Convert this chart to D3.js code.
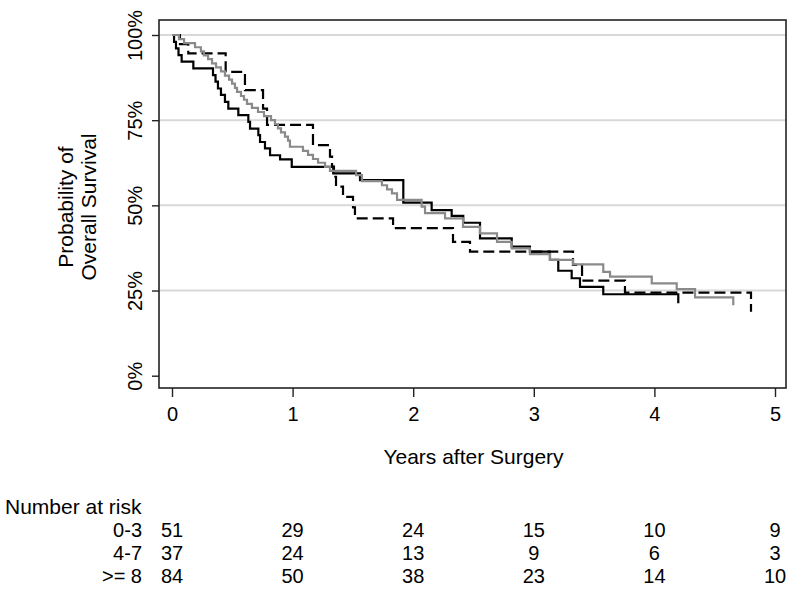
<!DOCTYPE html>
<html><head><meta charset="utf-8">
<script src="https://cdn.jsdelivr.net/npm/d3@7"></script>
<style>
body{margin:0;background:#fff}
svg text{font-family:"Liberation Sans",Arial,Helvetica,sans-serif;fill:#000}
</style>
</head><body>
<svg id="chart" width="800" height="596"></svg>
<script>
// ---- data ----
const groups = ["0-3", "4-7", ">= 8"];

// Group 0-3 (solid black)
const time03 = [0,0.017,0.033,0.054,0.080,0.177,0.340,0.361,0.381,0.406,0.439,0.467,0.550,0.633,0.647,0.716,0.730,0.771,0.813,0.896,0.993,1.337,1.559,1.918,2.153,2.319,2.415,2.554,2.817,2.968,3.134,3.203,3.314,3.383,3.576,4.198];
const surv03 = [1,0.980,0.961,0.941,0.922,0.902,0.882,0.863,0.843,0.824,0.804,0.784,0.765,0.745,0.725,0.706,0.686,0.667,0.647,0.635,0.613,0.594,0.574,0.508,0.486,0.469,0.449,0.403,0.379,0.364,0.340,0.308,0.286,0.261,0.239,0.213];

// Group 4-7 (dashed black)
const time47 = [0,0.066,0.135,0.445,0.605,0.755,0.788,1.169,1.310,1.327,1.343,1.360,1.418,1.501,1.517,1.833,2.330,2.471,3.325,3.400,3.756,4.801];
const surv47 = [1,0.973,0.946,0.892,0.838,0.784,0.736,0.677,0.643,0.614,0.584,0.555,0.525,0.494,0.462,0.433,0.393,0.364,0.325,0.279,0.244,0.188];

// Group >= 8 (solid gray)
const time8 = [0,0.058,0.100,0.191,0.240,0.265,0.299,0.332,0.365,0.406,0.439,0.473,0.498,0.522,0.539,0.572,0.597,0.622,0.663,0.713,0.763,0.821,0.854,0.879,0.904,0.937,0.962,0.978,1.086,1.128,1.169,1.211,1.269,1.310,1.526,1.575,1.741,1.783,1.824,1.866,2.070,2.098,2.264,2.413,2.554,2.695,2.817,2.968,3.134,3.325,3.576,3.632,3.978,4.185,4.337,4.654];
const surv8 = [1,0.988,0.976,0.964,0.952,0.940,0.929,0.917,0.905,0.893,0.881,0.869,0.857,0.845,0.833,0.821,0.810,0.798,0.786,0.774,0.762,0.750,0.738,0.726,0.714,0.702,0.690,0.672,0.660,0.648,0.636,0.625,0.613,0.601,0.589,0.571,0.559,0.547,0.535,0.516,0.496,0.477,0.462,0.437,0.418,0.393,0.374,0.357,0.340,0.327,0.305,0.291,0.271,0.254,0.230,0.207];

const xTicks = [0, 1, 2, 3, 4, 5];
const yTicks = [0, 0.25, 0.5, 0.75, 1];
const gridTicks = [0.25, 0.5, 0.75, 1];

const riskTimes = [0, 1, 2, 3, 4, 5];
const risk03 = [51, 29, 24, 15, 10, 9];
const risk47 = [37, 24, 13, 9, 6, 3];
const risk8 = [84, 50, 38, 23, 14, 10];

const xTitle = "Years after Surgery";
const yTitle = ["Probability of", "Overall Survival"];
const riskTitle = "Number at risk";

// ---- layout ----
const svg = d3.select("#chart");
const frame = {left: 159, top: 20, right: 786, bottom: 388};
const x = d3.scaleLinear().domain([0, 5]).range([172, 775]);
const y = d3.scaleLinear().domain([0, 1]).range([375.7, 35]);
const FS = 20, FT = 21;

svg.append("rect").attr("width", 800).attr("height", 596).attr("fill", "#fff");

// gridlines
svg.append("g").selectAll("line").data(gridTicks).join("line")
  .attr("x1", frame.left).attr("x2", frame.right)
  .attr("y1", d => y(d)).attr("y2", d => y(d))
  .attr("stroke", "#d9d9d9").attr("stroke-width", 2);

// curves
const line = d3.line().x(d => x(d[0])).y(d => y(d[1])).curve(d3.curveStepAfter);
const series = [
  {t: time03, s: surv03, color: "#000", dash: null},
  {t: time47, s: surv47, color: "#000", dash: "11,5"},
  {t: time8,  s: surv8,  color: "#8a8a8a", dash: null}
];
series.forEach(sr => {
  svg.append("path")
    .attr("d", line(sr.t.map((t, i) => [t, sr.s[i]])))
    .attr("fill", "none")
    .attr("stroke", sr.color)
    .attr("stroke-width", 2.2)
    .attr("stroke-dasharray", sr.dash);
});

// frame
svg.append("rect")
  .attr("x", frame.left).attr("y", frame.top)
  .attr("width", frame.right - frame.left).attr("height", frame.bottom - frame.top)
  .attr("fill", "none").attr("stroke", "#222").attr("stroke-width", 1.6);

// y axis
const yAxis = svg.append("g").attr("transform", `translate(${frame.left},0)`)
  .call(d3.axisLeft(y).tickValues(yTicks).tickSize(7).tickFormat(d3.format(".0%")));
yAxis.select(".domain").remove();
yAxis.selectAll(".tick line").attr("stroke", "#222").attr("stroke-width", 1.4);
yAxis.selectAll(".tick text")
  .attr("x", null).attr("dy", null)
  .attr("transform", "translate(-17.5,0) rotate(-90)")
  .attr("text-anchor", "middle")
  .style("font-size", FS + "px")
  .attr("font-family", null);

// x axis
const xAxis = svg.append("g").attr("transform", `translate(0,${frame.bottom})`)
  .call(d3.axisBottom(x).tickValues(xTicks).tickSize(9).tickFormat(d3.format("d")));
xAxis.select(".domain").remove();
xAxis.selectAll(".tick line").attr("stroke", "#222").attr("stroke-width", 1.4);
xAxis.selectAll(".tick text")
  .attr("y", 33).attr("dy", null)
  .style("font-size", FS + "px")
  .attr("font-family", null);

// axis titles
svg.append("text").attr("x", (x(0) + x(5)) / 2).attr("y", 464)
  .attr("text-anchor", "middle").style("font-size", FT + "px").text(xTitle);

const yt = svg.append("text").attr("transform", "translate(0,207) rotate(-90)")
  .attr("text-anchor", "middle").style("font-size", FT + "px");
yTitle.forEach((s, i) => {
  yt.append("tspan").attr("x", 0).attr("y", 73 + i * 23).text(s);
});

// risk table
svg.append("text").attr("x", 5).attr("y", 514).style("font-size", FT + "px").text(riskTitle);
const rows = [risk03, risk47, risk8];
rows.forEach((r, i) => {
  const by = 537 + i * 23;
  svg.append("text").attr("x", 142).attr("y", by).attr("text-anchor", "end")
    .style("font-size", FS + "px").text(groups[i]);
  svg.append("g").selectAll("text").data(r).join("text")
    .attr("x", (d, j) => x(riskTimes[j])).attr("y", by)
    .attr("text-anchor", "middle").style("font-size", FS + "px")
    .text(d => d);
});
</script>
</body></html>
